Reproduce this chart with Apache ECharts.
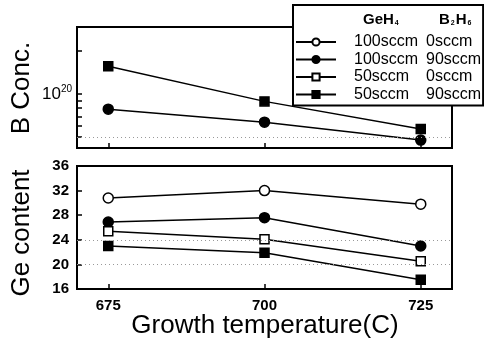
<!DOCTYPE html>
<html><head><meta charset="utf-8">
<script src="https://cdn.jsdelivr.net/npm/echarts@6/dist/echarts.min.js"></script>
<style>html,body{margin:0;padding:0;background:#fff}#c{width:484px;height:346px}</style>
</head><body><div id="c"></div>
<script>
const temps = [675, 700, 725];
const seriesNames = ['100sccm 0sccm', '100sccm 90sccm', '50sccm 0sccm', '50sccm 90sccm'];
const ge100_0 = [30.8, 32.0, 29.8];
const ge100_90 = [26.9, 27.6, 23.0];
const ge50_0 = [25.4, 24.1, 20.5];
const ge50_90 = [23.0, 21.9, 17.5];
const b100_90 = [7.85e19, 6.37e19, 4.77e19];
const b50_90 = [1.57e20, 8.9e19, 5.7e19];
const xTicks = [675, 700, 725];
const bLabelTicks = [1e20];
const bTicks = [2e20, 1e20, 9e19, 8e19, 7e19, 6e19, 5e19];
const bGridLines = [5e19];
const geGridLines = [20, 24];

const FONT = '"Liberation Sans", Arial, sans-serif';
const chart = echarts.init(document.getElementById('c'), null, {renderer: 'canvas'});
const pts = arr => temps.map((t, i) => [t, arr[i]]);

const styles = [
  {symbol: 'circle', fill: '#fff'},
  {symbol: 'circle', fill: '#000'},
  {symbol: 'rect', fill: '#fff'},
  {symbol: 'rect', fill: '#000'}
];
function mk(name, data, style, xi, yi, extra) {
  return Object.assign({
    type: 'line', name: name, data: data, xAxisIndex: xi, yAxisIndex: yi,
    symbol: style.symbol, symbolSize: style.symbol === 'rect' ? 9 : 10,
    lineStyle: {color: '#000', width: 1.5},
    itemStyle: {color: style.fill, borderColor: '#000', borderWidth: 1.5},
    emphasis: {disabled: true}, animation: false, z: 3
  }, extra || {});
}
const dotted = {color: '#999', type: [1, 3], width: 1};
const gridMark = vals => ({silent: true, symbol: 'none', label: {show: false},
  lineStyle: dotted, data: vals.map(v => ({yAxis: v}))});

const gridBorder = {show: true, borderColor: '#000', borderWidth: 2, backgroundColor: 'transparent'};
const xCommon = {
  type: 'value', min: 670, max: 730,
  axisLine: {show: false}, splitLine: {show: false},
  axisTick: {inside: true, length: 5, lineStyle: {color: '#000', width: 1.5}, customValues: xTicks}
};

const option = {
  backgroundColor: '#fff',
  animation: false,
  grid: [
    Object.assign({left: 77, top: 27, width: 375, height: 121}, gridBorder),
    Object.assign({left: 77, top: 166, width: 375, height: 123}, gridBorder)
  ],
  xAxis: [
    Object.assign({gridIndex: 0, axisLabel: {show: false}}, xCommon),
    Object.assign({gridIndex: 1, axisLabel: {customValues: xTicks, color: '#000', fontFamily: FONT, fontSize: 15, fontWeight: 'bold', margin: 9}}, xCommon)
  ],
  yAxis: [
    {gridIndex: 0, type: 'log', position: 'left', min: 4.2e19, max: 2.95e20,
     axisLine: {show: false}, splitLine: {show: false},
     axisTick: {inside: true, length: 5, lineStyle: {color: '#000', width: 1.5}, customValues: bTicks},
     axisLabel: {customValues: bLabelTicks, margin: 5, color: '#000',
       formatter: () => '{b|10}{s|20}',
       rich: {b: {fontFamily: FONT, fontSize: 17, color: '#000'},
              s: {fontFamily: FONT, fontSize: 10, color: '#000', padding: [0, 0, 10, 0]}}}},
    {gridIndex: 1, type: 'value', min: 16, max: 36, interval: 4,
     axisLine: {show: false}, splitLine: {show: false},
     axisTick: {inside: true, length: 5, lineStyle: {color: '#000', width: 1.5}},
     axisLabel: {color: '#000', fontFamily: FONT, fontSize: 15, fontWeight: 'bold', margin: 8}}
  ],
  legend: {
    left: 293, top: 5, orient: 'vertical', align: 'left',
    backgroundColor: '#fff', borderColor: '#000', borderWidth: 2,
    padding: [29, 2, 3, 2], itemGap: 1.5, itemWidth: 40, itemHeight: 9,
    selectedMode: false, data: seriesNames,
    formatter: n => { const p = n.split(' '); return '{s|}{a|' + p[0] + '}{b|' + p[1] + '}'; },
    textStyle: {fontFamily: FONT, fontSize: 16, color: '#000',
      rich: {s: {width: 13}, a: {width: 72, fontFamily: FONT, fontSize: 16, lineHeight: 16, color: '#000'},
             b: {fontFamily: FONT, fontSize: 16, lineHeight: 16, color: '#000'}}}
  },
  graphic: [
    {type: 'text', left: 363, top: 12, z: 100, style: {text: '{t|GeH}{u|4}', rich: {
      t: {fontFamily: FONT, fontSize: 15, fontWeight: 'bold', fill: '#000'},
      u: {fontFamily: FONT, fontSize: 7, fontWeight: 'bold', fill: '#000', padding: [7, 0, 0, 1]}}}},
    {type: 'text', left: 439, top: 12, z: 100, style: {text: '{t|B}{u|2}{t|H}{u|6}', rich: {
      t: {fontFamily: FONT, fontSize: 15, fontWeight: 'bold', fill: '#000'},
      u: {fontFamily: FONT, fontSize: 7, fontWeight: 'bold', fill: '#000', padding: [7, 1, 0, 1]}}}},
    {type: 'text', x: 22, y: 88, rotation: Math.PI / 2, style: {text: 'B Conc.', font: '26px ' + FONT, fill: '#000', align: 'center', verticalAlign: 'middle'}},
    {type: 'text', x: 22, y: 233, rotation: Math.PI / 2, style: {text: 'Ge content', font: '26px ' + FONT, fill: '#000', align: 'center', verticalAlign: 'middle'}},
    {type: 'text', x: 265, y: 326, style: {text: 'Growth temperature(C)', font: '26px ' + FONT, fill: '#000', align: 'center', verticalAlign: 'middle'}}
  ],
  series: [
    mk(seriesNames[0], pts(ge100_0), styles[0], 1, 1, {markLine: gridMark(geGridLines)}),
    mk(seriesNames[1], pts(ge100_90), styles[1], 1, 1),
    mk(seriesNames[2], pts(ge50_0), styles[2], 1, 1),
    mk(seriesNames[3], pts(ge50_90), styles[3], 1, 1),
    mk(seriesNames[1], pts(b100_90), styles[1], 0, 0, {markLine: gridMark(bGridLines)}),
    mk(seriesNames[3], pts(b50_90), styles[3], 0, 0)
  ]
};
chart.setOption(option);
</script></body></html>
